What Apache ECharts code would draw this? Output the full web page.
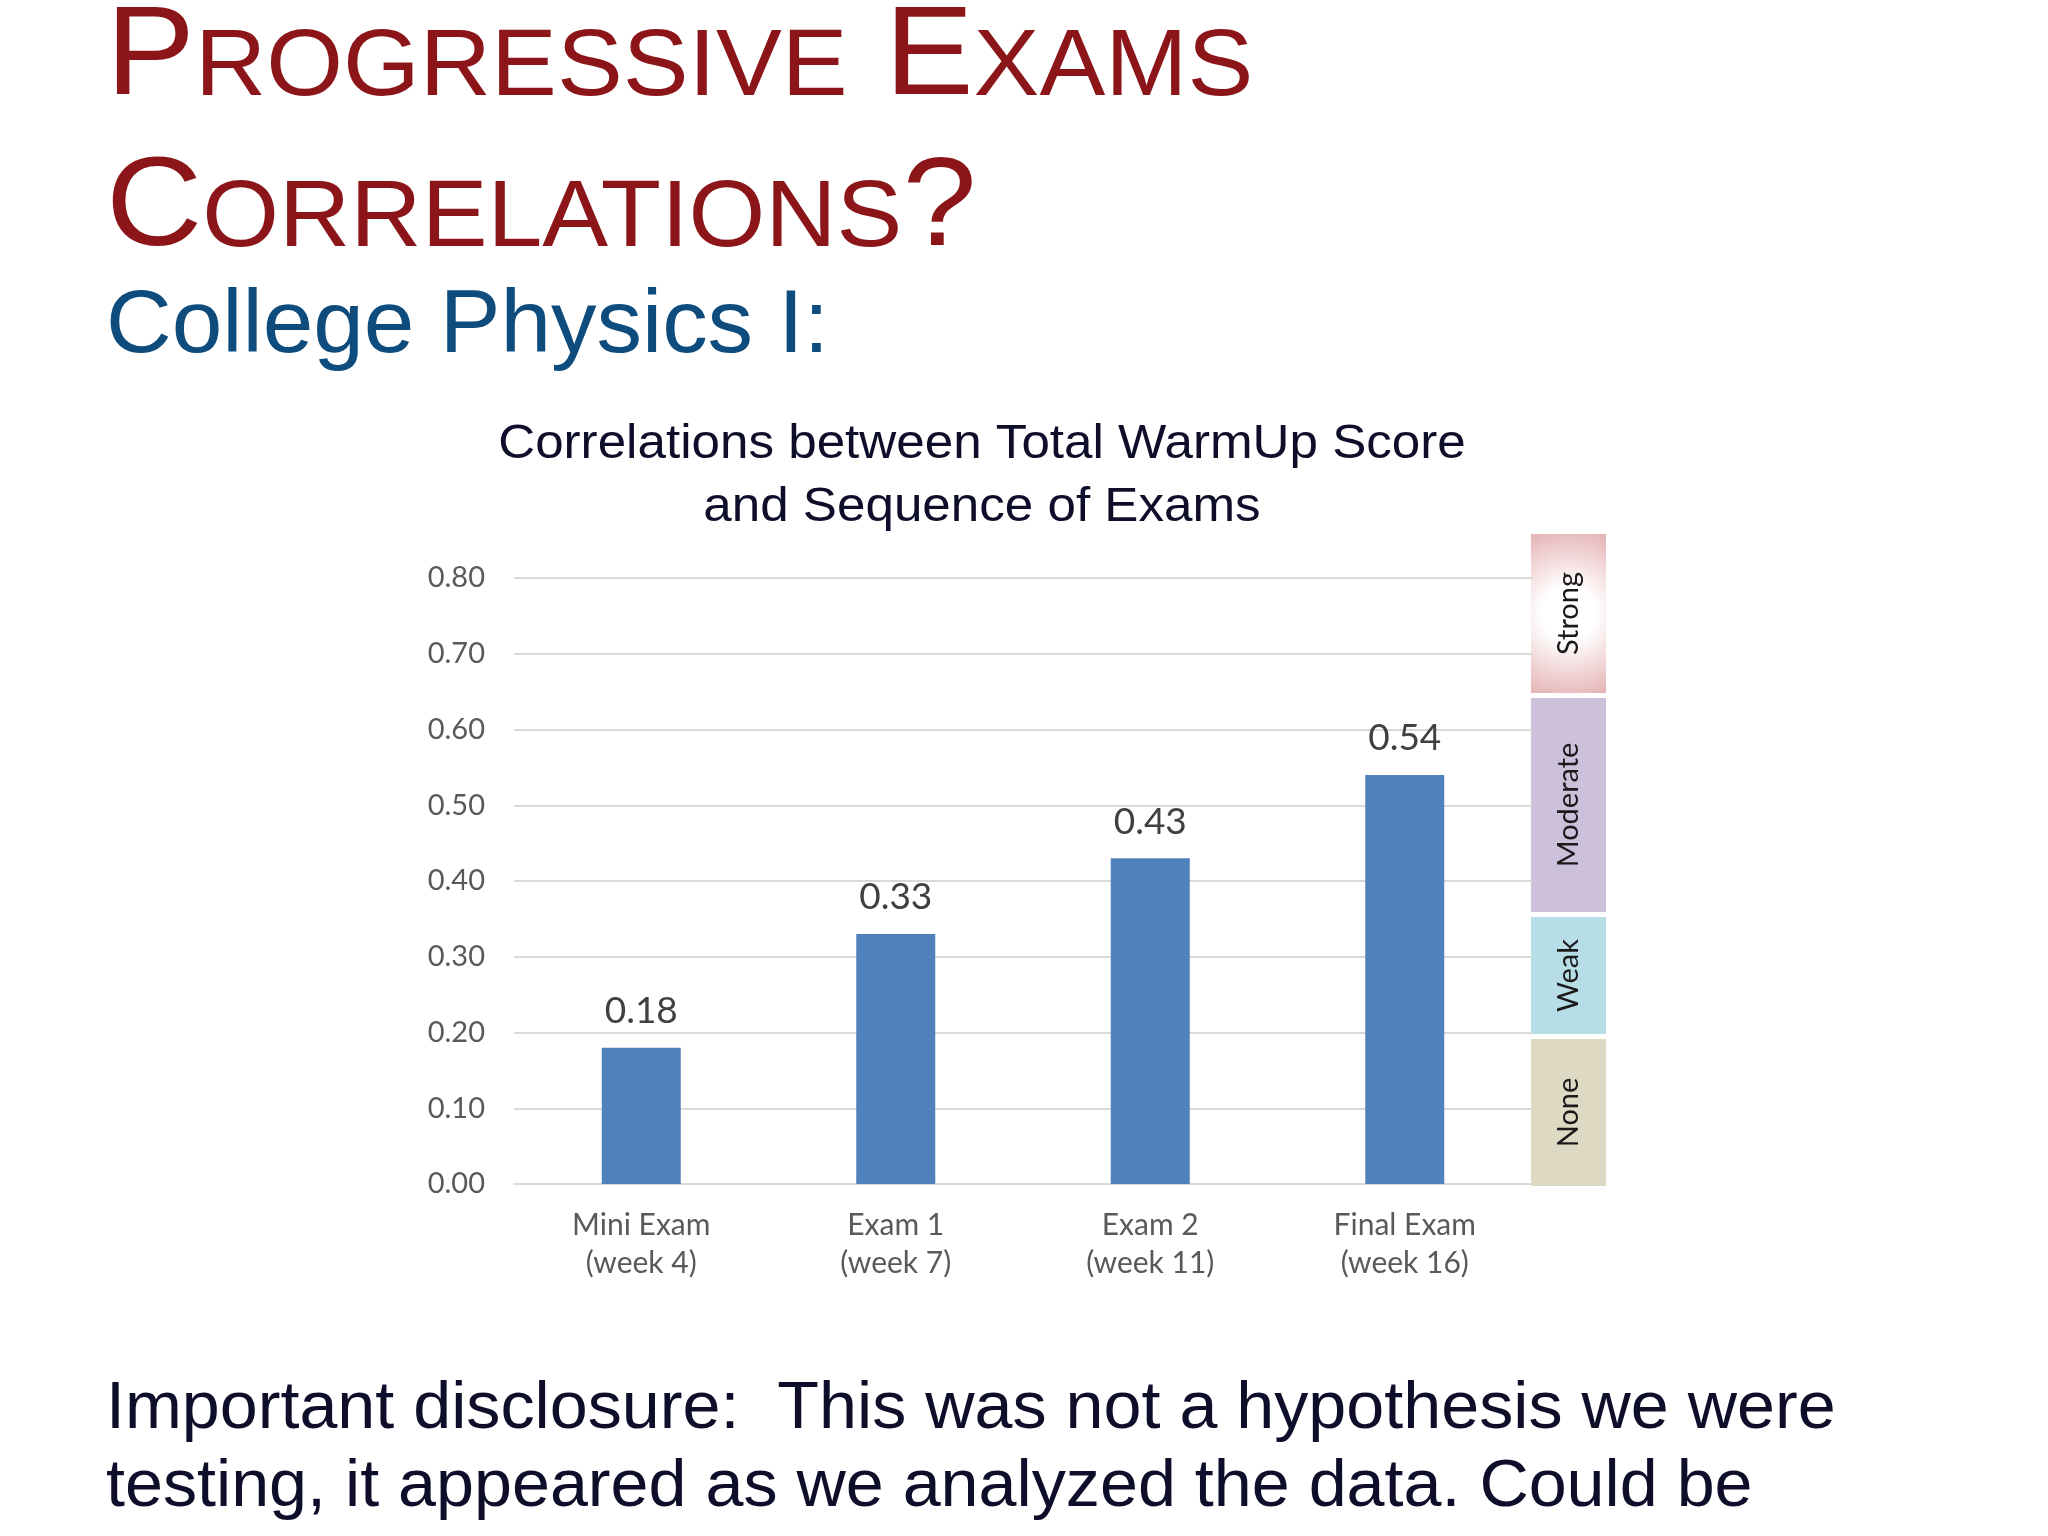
<!DOCTYPE html>
<html>
<head>
<meta charset="utf-8">
<script src="https://cdn.jsdelivr.net/npm/echarts@6/dist/echarts.min.js"></script>
<style>
html,body{margin:0;padding:0;background:#fff}
#chart{width:2048px;height:1536px}
</style>
</head>
<body>
<div id="chart"></div>
<script>
// data
var categories = ['Mini Exam\n(week 4)', 'Exam 1\n(week 7)', 'Exam 2\n(week 11)', 'Final Exam\n(week 16)'];
var correlations = [0.18, 0.33, 0.43, 0.54];
var yMin = 0, yMax = 0.8, yStep = 0.1;
var bandNames = ['Strong', 'Moderate', 'Weak', 'None'];
var bandColors = ['#E4AFB1', '#CDC0DB', '#B7DDE7', '#DDD9C3'];

var slideTitle = ['Progressive Exams', 'Correlations?'];
var subTitle = 'College Physics I:';
var chartTitle = ['Correlations between Total WarmUp Score', 'and Sequence of Exams'];
var disclosure = ['Important disclosure:  This was not a hypothesis we were',
                  'testing, it appeared as we analyzed the data. Could be'];

// layout
var SANS = 'Liberation Sans';
var bandX = 1531, bandW = 75;
var bandTops = [534, 698, 917, 1039];
var bandBottoms = [693, 912, 1034, 1186];

var ctx = document.createElement('canvas').getContext('2d');

// text placed on a baseline (canvas "middle" sits ~0.31em above it)
function lineText(str, x, baseline, size, color, align, sx) {
    return {
        type: 'text', x: x, y: baseline - 0.31 * size,
        scaleX: sx || 1,
        style: {text: str, fontSize: size, fontFamily: SANS, fill: color,
                align: align || 'left', verticalAlign: 'middle'}
    };
}

// fake small caps: lowercase letters drawn as smaller capitals
function smallCaps(str, x, baseline, big, small, color, sx) {
    var out = [], cx = x, runs = [];
    for (var i = 0; i < str.length; i++) {
        var ch = str.charAt(i);
        var isLow = ch !== ch.toUpperCase();
        var last = runs[runs.length - 1];
        if (last && last.low === isLow) last.t += ch.toUpperCase();
        else runs.push({t: ch.toUpperCase(), low: isLow});
    }
    runs.forEach(function (r) {
        var size = r.low ? small : big;
        out.push(lineText(r.t, cx, baseline, size, color, 'left', sx));
        ctx.font = size + 'px "' + SANS + '"';
        cx += ctx.measureText(r.t).width * sx;
    });
    return out;
}

var graphics = [];
graphics = graphics.concat(smallCaps(slideTitle[0], 106, 98, 127, 94, '#8B1519', 1.05));
graphics = graphics.concat(smallCaps(slideTitle[1], 106, 249, 127, 94, '#8B1519', 1.05));
graphics.push(lineText(subTitle, 106, 355, 89, '#0E4C7E', 'left', 1.022));
graphics.push(lineText(chartTitle[0], 982, 460, 49, '#0E0E2A', 'center', 1.044));
graphics.push(lineText(chartTitle[1], 982, 523, 49, '#0E0E2A', 'center', 1.044));
graphics.push(lineText(disclosure[0], 106, 1430, 66, '#0E0E2A', 'left', 1.034));
graphics.push(lineText(disclosure[1], 106, 1508, 66, '#0E0E2A', 'left', 1.034));

bandNames.forEach(function (name, i) {
    var h = bandBottoms[i] - bandTops[i];
    var fill = bandColors[i];
    if (i === 0) {
        fill = new echarts.graphic.RadialGradient(0.5, 0.5, 1.2, [
            {offset: 0, color: '#ffffff'},
            {offset: 0.3, color: '#ffffff'},
            {offset: 1, color: bandColors[i]}
        ]);
    }
    graphics.push({
        type: 'rect',
        shape: {x: bandX, y: bandTops[i], width: bandW, height: h},
        style: {fill: fill}
    });
    graphics.push({
        type: 'text',
        x: bandX + bandW / 2, y: bandTops[i] + h / 2,
        rotation: Math.PI / 2,
        style: {text: name, fontSize: 29, fontFamily: 'Lato', fill: '#1a1a1a',
                align: 'center', verticalAlign: 'middle'}
    });
});

var chart = echarts.init(document.getElementById('chart'), null, {renderer: 'canvas'});
chart.setOption({
    animation: false,
    backgroundColor: '#ffffff',
    grid: {left: 514, right: 516, top: 578, bottom: 352, containLabel: false, outerBoundsMode: 'none'},
    xAxis: {
        type: 'category',
        data: categories,
        axisLine: {show: true, lineStyle: {color: '#D9D9D9', width: 2}},
        axisTick: {show: false},
        axisLabel: {color: '#595959', fontSize: 30, lineHeight: 38, fontFamily: 'Lato', margin: 22}
    },
    yAxis: {
        type: 'value',
        min: yMin, max: yMax, interval: yStep,
        axisLine: {show: false},
        axisTick: {show: false},
        splitLine: {lineStyle: {color: '#D9D9D9', width: 2}},
        axisLabel: {
            color: '#595959', fontSize: 29, fontFamily: 'Lato', margin: 29,
            formatter: function (v) { return v.toFixed(2); }
        }
    },
    series: [{
        type: 'bar',
        data: correlations,
        barWidth: 79,
        itemStyle: {color: '#4F81BD'},
        label: {
            show: true, position: 'top', distance: 18,
            fontSize: 37, fontFamily: 'Lato', color: '#404040',
            formatter: function (p) { return p.value.toFixed(2); }
        }
    }],
    graphic: graphics
});
</script>
</body>
</html>
